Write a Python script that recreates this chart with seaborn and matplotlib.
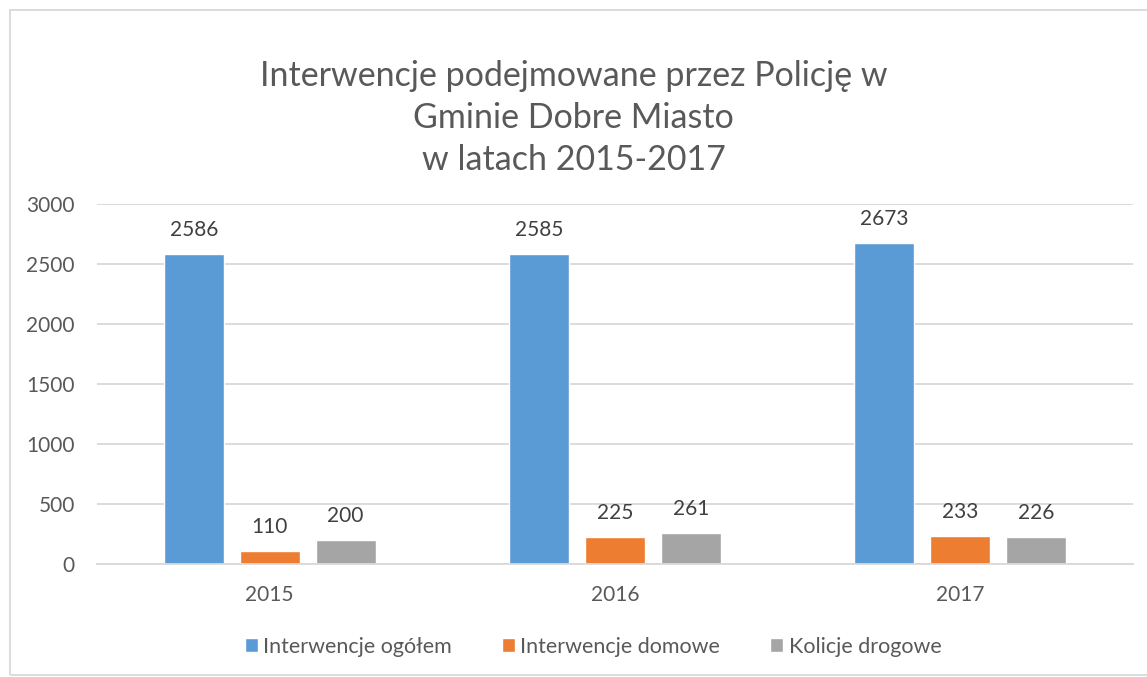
import pandas as pd
import seaborn as sns
import matplotlib.pyplot as plt
from matplotlib.patches import Rectangle

# Dane
lata = ['2015', '2016', '2017']
ogolem = [2586, 2585, 2673]
domowe = [110, 225, 233]
drogowe = [200, 261, 226]
serie = ['Interwencje ogółem', 'Interwencje domowe', 'Kolicje drogowe']
kolory = ['#5B9BD5', '#ED7D31', '#A5A5A5']

df = pd.DataFrame({'rok': lata * 3,
                   'seria': [serie[0]] * 3 + [serie[1]] * 3 + [serie[2]] * 3,
                   'wartosc': ogolem + domowe + drogowe})

sns.set_style('white')
plt.rcParams['font.family'] = ['Lato', 'DejaVu Sans']
szary = '#595959'

fig = plt.figure(figsize=(11.47, 6.77), dpi=100)
ax = fig.add_axes([97 / 1147, 1 - 564 / 677, (1133 - 97) / 1147, (564 - 204) / 677])

sns.barplot(data=df, x='rok', y='wartosc', hue='seria', palette=kolory, saturation=1,
            width=0.66, gap=0.21, ax=ax, legend=True)

for c in ax.containers:
    ax.bar_label(c, padding=10, fontsize=15, color='#404040')

ax.set_ylim(0, 3000)
ax.set_xlim(-0.5, 2.5)
ax.set_yticks(range(0, 3001, 500))
ax.yaxis.grid(True, color='#D9D9D9', linewidth=1.3)
ax.set_axisbelow(True)
for s in ['top', 'right', 'left']:
    ax.spines[s].set_visible(False)
ax.spines['bottom'].set_color('#D9D9D9')
ax.spines['bottom'].set_linewidth(1.3)
ax.tick_params(axis='y', length=0, pad=16, labelsize=15, labelcolor=szary)
ax.tick_params(axis='x', length=0, pad=15, labelsize=15, labelcolor=szary)
ax.set_xlabel('')
ax.set_ylabel('')

ax.legend(loc='center', bbox_to_anchor=(593 / 1147, 1 - 647 / 677), bbox_transform=fig.transFigure,
          ncol=3, frameon=False, fontsize=15.5, labelcolor=szary,
          handlelength=0.62, handleheight=0.62, handletextpad=0.25, columnspacing=2.3)

fig.text(0.5, 1 - 118 / 677,
         'Interwencje podejmowane przez Policję w\nGminie Dobre Miasto\nw latach 2015-2017',
         ha='center', va='center', fontsize=24.5, color=szary, linespacing=1.4)

# ramka wykresu
fig.patches.append(Rectangle((10 / 1147, 2 / 677), 1.2, 665 / 677, transform=fig.transFigure,
                             fill=False, edgecolor='#D9D9D9', linewidth=1.3))

fig.savefig('out.png', dpi=100)
